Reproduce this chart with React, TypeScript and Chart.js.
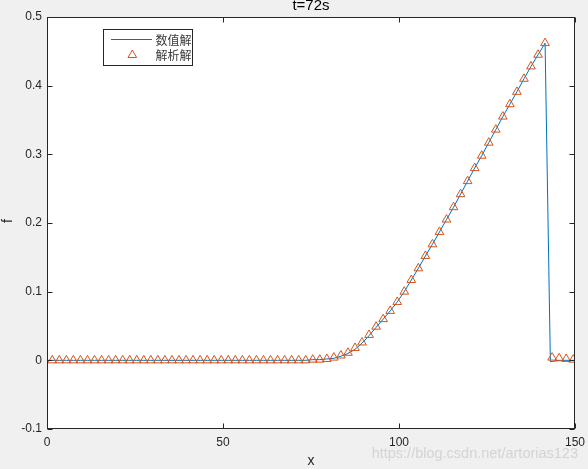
import React, { useEffect, useRef } from "react";
import { Chart, registerables } from "chart.js";

Chart.register(...registerables);

const titleText = "t=72s";
const xLabel = "x";
const yLabel = "f";
const legendNames = ["数值解", "解析解"];
const watermark = "https://blog.csdn.net/artorias123";

const xTicks = [0, 50, 100, 150];
const yTicks = [-0.1, 0, 0.1, 0.2, 0.3, 0.4, 0.5];

// analytic solution (triangles)
const anaX = [
  1.5, 3.5, 5.5, 7.5, 9.5, 11.5, 13.5, 15.5, 17.5, 19.5, 21.5, 23.5, 25.5, 27.5, 29.5,
  31.5, 33.5, 35.5, 37.5, 39.5, 41.5, 43.5, 45.5, 47.5, 49.5, 51.5, 53.5, 55.5, 57.5,
  59.5, 61.5, 63.5, 65.5, 67.5, 69.5, 71.5, 73.5, 75.5, 77.5, 79.5, 81.5, 83.5, 85.5,
  87.5, 89.5, 91.5, 93.5, 95.5, 97.5, 99.5, 101.5, 103.5, 105.5, 107.5, 109.5, 111.5,
  113.5, 115.5, 117.5, 119.5, 121.5, 123.5, 125.5, 127.5, 129.5, 131.5, 133.5, 135.5,
  137.5, 139.5, 141.5, 143.5, 145.5, 147.5, 149.5,
];
const anaY = [
  0, 0, 0, 0, 0, 0, 0, 0, 0, 0, 0, 0, 0, 0, 0,
  0, 0, 0, 0, 0, 0, 0, 0, 0, 0, 0, 0, 0, 0,
  0, 0, 0, 0, 0, 0, 0, 0, 0.001, 0.001, 0.002, 0.004, 0.007, 0.011,
  0.018, 0.026, 0.037, 0.049, 0.06, 0.072, 0.085, 0.1, 0.117, 0.134, 0.152, 0.169, 0.187,
  0.205, 0.223, 0.242, 0.261, 0.28, 0.298, 0.317, 0.336, 0.355, 0.373, 0.391, 0.41,
  0.428, 0.445, 0.462, 0.004, 0.003, 0.002, 0.001,
];

// numerical solution (line)
const numX = [
  0, 1.5, 3.5, 5.5, 7.5, 9.5, 11.5, 13.5, 15.5, 17.5, 19.5, 21.5, 23.5, 25.5, 27.5, 29.5,
  31.5, 33.5, 35.5, 37.5, 39.5, 41.5, 43.5, 45.5, 47.5, 49.5, 51.5, 53.5, 55.5, 57.5,
  59.5, 61.5, 63.5, 65.5, 67.5, 69.5, 71.5, 73.5, 75.5, 77.5, 79.5, 81.5, 83.5, 85.5,
  87.5, 89.5, 91.5, 93.5, 95.5, 97.5, 99.5, 101.5, 103.5, 105.5, 107.5, 109.5, 111.5,
  113.5, 115.5, 117.5, 119.5, 121.5, 123.5, 125.5, 127.5, 129.5, 131.5, 133.5, 135.5,
  137.5, 139.5, 141.5, 143, 145.5, 147.5, 150,
];
const numY = [
  0, 0, 0, 0, 0, 0, 0, 0, 0, 0, 0, 0, 0, 0, 0, 0,
  0, 0, 0, 0, 0, 0, 0, 0, 0, 0, 0, 0, 0, 0,
  0, 0, 0, 0, 0, 0, 0, 0, 0.001, 0.001, 0.002, 0.003, 0.006, 0.01,
  0.016, 0.025, 0.036, 0.048, 0.06, 0.072, 0.085, 0.1, 0.117, 0.134, 0.152, 0.169, 0.187,
  0.205, 0.223, 0.242, 0.261, 0.28, 0.298, 0.317, 0.336, 0.355, 0.373, 0.391, 0.41,
  0.428, 0.445, 0.462, -0.002, 0, 0, 0,
];

const BLUE = "#0072BD";
const ORANGE = "#D95319";
const AXIS = "#262626";
const FONT = "Arial, 'Liberation Sans', sans-serif";

const decorPlugin = {
  id: "decor",
  beforeDraw(chart: any) {
    const { ctx, chartArea: a, width, height } = chart;
    ctx.save();
    ctx.fillStyle = "#f0f0f0";
    ctx.fillRect(0, 0, width, height);
    ctx.fillStyle = "#ffffff";
    ctx.fillRect(a.left, a.top, a.right - a.left, a.bottom - a.top);
    ctx.restore();
  },
  afterDraw(chart: any) {
    const { ctx, chartArea: a, scales } = chart;
    const xs = scales.x;
    const ys = scales.y;
    ctx.save();
    // box
    ctx.strokeStyle = AXIS;
    ctx.lineWidth = 1;
    const L = Math.round(a.left) + 0.5;
    const R = Math.round(a.right) - 0.5;
    const T = Math.round(a.top) + 0.5;
    const B = Math.round(a.bottom) - 0.5;
    ctx.strokeRect(L, T, R - L, B - T);
    // inward ticks
    const tl = 5;
    ctx.beginPath();
    xTicks.forEach((v) => {
      const px = Math.round(xs.getPixelForValue(v)) + 0.5;
      ctx.moveTo(px, B);
      ctx.lineTo(px, B - tl);
      ctx.moveTo(px, T);
      ctx.lineTo(px, T + tl);
    });
    yTicks.forEach((v) => {
      const py = Math.round(ys.getPixelForValue(v)) + 0.5;
      ctx.moveTo(L, py);
      ctx.lineTo(L + tl, py);
      ctx.moveTo(R, py);
      ctx.lineTo(R - tl, py);
    });
    ctx.stroke();

    // title
    ctx.fillStyle = "#000000";
    ctx.font = `15px ${FONT}`;
    ctx.textAlign = "center";
    ctx.textBaseline = "alphabetic";
    ctx.fillText(titleText, (a.left + a.right) / 2, 9.5);

    // axis labels
    ctx.fillStyle = AXIS;
    ctx.font = `14px ${FONT}`;
    ctx.textBaseline = "middle";
    ctx.fillText(xLabel, (a.left + a.right) / 2, 461);
    ctx.save();
    ctx.translate(8, (a.top + a.bottom) / 2 - 2);
    ctx.rotate(-Math.PI / 2);
    ctx.fillText(yLabel, 0, 0);
    ctx.restore();

    // legend
    const bx = 103.5, by = 29.5, bw = 89, bh = 36;
    ctx.fillStyle = "#ffffff";
    ctx.fillRect(bx, by, bw, bh);
    ctx.strokeStyle = AXIS;
    ctx.strokeRect(bx, by, bw, bh);
    ctx.strokeStyle = BLUE;
    ctx.lineWidth = 1;
    ctx.beginPath();
    ctx.moveTo(111, 39.5);
    ctx.lineTo(152, 39.5);
    ctx.stroke();
    // triangle marker
    const cx = 132.3, cy = 55, r = 5;
    ctx.strokeStyle = ORANGE;
    ctx.beginPath();
    for (let i = 0; i < 3; i++) {
      const ang = (i * 2 * Math.PI) / 3;
      const px = cx + Math.sin(ang) * r;
      const py = cy - Math.cos(ang) * r;
      if (i === 0) ctx.moveTo(px, py);
      else ctx.lineTo(px, py);
    }
    ctx.closePath();
    ctx.stroke();
    ctx.fillStyle = "#3a3a3a";
    ctx.font = `12px 'Noto Sans CJK SC', sans-serif`;
    ctx.textAlign = "left";
    ctx.textBaseline = "middle";
    ctx.fillText(legendNames[0], 155.5, 40);
    ctx.fillText(legendNames[1], 155.5, 55);

    // watermark
    ctx.fillStyle = "rgba(200,200,200,0.7)";
    ctx.font = `14.5px ${FONT}`;
    ctx.textAlign = "right";
    ctx.textBaseline = "alphabetic";
    ctx.fillText(watermark, 578, 458);
    ctx.restore();
  },
};

export default function App() {
  const ref = useRef<HTMLCanvasElement | null>(null);
  useEffect(() => {
    document.body.style.margin = "0";
    const canvas = ref.current;
    if (!canvas) return;
    const chart = new Chart(canvas, {
      type: "scatter",
      data: {
        datasets: [
          {
            label: legendNames[1],
            data: anaX.map((x, i) => ({ x, y: anaY[i] })),
            showLine: false,
            pointStyle: "triangle",
            pointRadius: 5,
            pointBorderWidth: 1,
            borderColor: ORANGE,
            backgroundColor: "rgba(0,0,0,0)",
            order: 1,
          },
          {
            label: legendNames[0],
            data: numX.map((x, i) => ({ x, y: numY[i] })),
            showLine: true,
            pointRadius: 0,
            borderWidth: 1,
            borderColor: BLUE,
            backgroundColor: BLUE,
            order: 2,
          },
        ],
      },
      options: {
        responsive: false,
        animation: false,
        devicePixelRatio: 1,
        layout: { padding: { left: 0, right: 13, top: 17, bottom: 0 } },
        plugins: {
          legend: { display: false },
          title: { display: false },
          tooltip: { enabled: false },
        },
        scales: {
          x: {
            type: "linear",
            min: 0,
            max: 150,
            afterFit: (s: any) => {
              s.height = 40;
              s.paddingLeft = 0;
              s.paddingRight = 0;
            },
            afterBuildTicks: (s: any) => {
              s.ticks = xTicks.map((v) => ({ value: v }));
            },
            grid: { display: false, drawTicks: false },
            border: { display: false },
            ticks: {
              color: AXIS,
              font: { family: FONT, size: 12 },
              padding: 6,
              maxRotation: 0,
              callback: (v: any) => String(v),
            },
          },
          y: {
            type: "linear",
            min: -0.1,
            max: 0.5,
            afterFit: (s: any) => {
              s.width = 47;
              s.paddingTop = 0;
              s.paddingBottom = 0;
            },
            afterBuildTicks: (s: any) => {
              s.ticks = yTicks.map((v) => ({ value: v }));
            },
            grid: { display: false, drawTicks: false },
            border: { display: false },
            ticks: {
              color: AXIS,
              font: { family: FONT, size: 12 },
              padding: 5,
              callback: (v: any) => String(Number(Number(v).toFixed(1))),
            },
          },
        },
      },
      plugins: [decorPlugin],
    });
    return () => chart.destroy();
  }, []);
  return (
    <div style={{ position: "fixed", left: 0, top: 0, width: 588, height: 469 }}>
      <canvas ref={ref} width={588} height={469} style={{ width: 588, height: 469, display: "block" }} />
    </div>
  );
}
